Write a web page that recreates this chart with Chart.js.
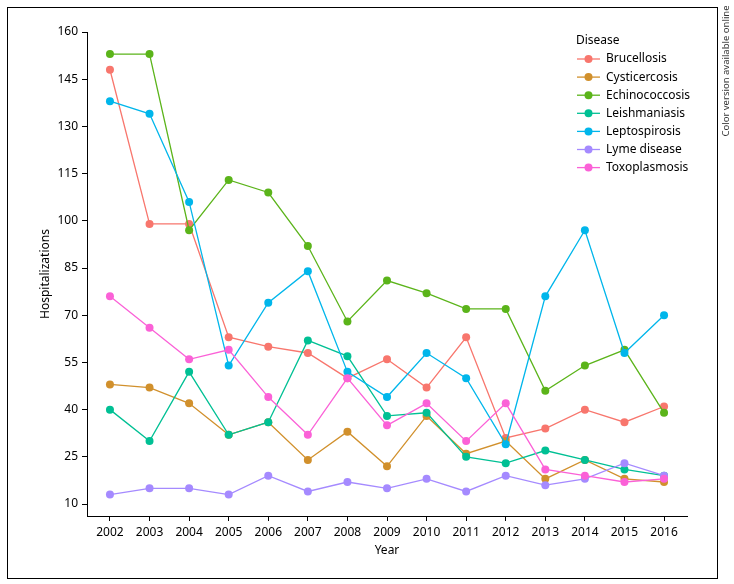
<!DOCTYPE html>
<html>
<head>
<meta charset="utf-8">
<script src="https://cdn.jsdelivr.net/npm/chart.js@4.4.0/dist/chart.umd.min.js"></script>
<style>
  html,body{margin:0;padding:0;background:#fff;}
  #wrap{width:734px;height:584px;}
</style>
</head>
<body>
<div id="wrap"><canvas id="chart"></canvas></div>
<script>
const YEARS = [2002,2003,2004,2005,2006,2007,2008,2009,2010,2011,2012,2013,2014,2015,2016];
const Y_TICKS = [10,25,40,55,70,85,100,115,130,145,160];
const DISEASES = ['Brucellosis','Cysticercosis','Echinococcosis','Leishmaniasis','Leptospirosis','Lyme disease','Toxoplasmosis'];
const COLORS = ['#F8766D','#D1902C','#5BB41A','#00C094','#00B6EB','#A58AFF','#FB61D7'];

const brucellosis    = [148,99,99,63,60,58,50,56,47,63,31,34,40,36,41];
const cysticercosis  = [48,47,42,32,36,24,33,22,38,26,30,18,24,18,17];
const echinococcosis = [153,153,97,113,109,92,68,81,77,72,72,46,54,59,39];
const leishmaniasis  = [40,30,52,32,36,62,57,38,39,25,23,27,24,21,19];
const leptospirosis  = [138,134,106,54,74,84,52,44,58,50,29,76,97,58,70];
const lyme           = [13,15,15,13,19,14,17,15,18,14,19,16,18,23,19];
const toxoplasmosis  = [76,66,56,59,44,32,50,35,42,30,42,21,19,17,18];

const SERIES = [brucellosis,cysticercosis,echinococcosis,leishmaniasis,leptospirosis,lyme,toxoplasmosis];
const FONT = '"Noto Sans", "Open Sans", sans-serif';

const datasets = SERIES.map((vals,i)=>({
  label: DISEASES[i],
  data: vals.map((v,j)=>({x:YEARS[j], y:v})),
  borderColor: COLORS[i], backgroundColor: COLORS[i],
  pointBackgroundColor: COLORS[i], pointBorderColor: COLORS[i],
  borderWidth: 1.3, pointRadius: 4, pointBorderWidth: 0,
  tension: 0, order: SERIES.length - i
}));

// legend drawn like ggplot (line + dot), frame and side note
const decor = {
  id:'decor',
  afterDraw(chart){
    const ctx = chart.ctx;
    ctx.save();
    ctx.strokeStyle = '#000'; ctx.lineWidth = 1;
    ctx.strokeRect(7.5, 7.5, 710, 571);
    // legend
    ctx.font = '12px ' + FONT;
    ctx.fillStyle = '#000'; ctx.textBaseline = 'middle'; ctx.textAlign = 'left';
    ctx.fillText('Disease', 576, 41);
    DISEASES.forEach((d,i)=>{
      const y = 59 + i*18.1;
      ctx.strokeStyle = COLORS[i]; ctx.lineWidth = 1.3;
      ctx.beginPath(); ctx.moveTo(577,y); ctx.lineTo(600,y); ctx.stroke();
      ctx.fillStyle = COLORS[i];
      ctx.beginPath(); ctx.arc(588.5,y,4,0,Math.PI*2); ctx.fill();
      ctx.fillStyle = '#000';
      ctx.fillText(d, 606, y);
    });
    // side note
    ctx.translate(726, 71);
    ctx.rotate(-Math.PI/2);
    ctx.font = '9.5px ' + FONT;
    ctx.fillStyle = '#333'; ctx.textAlign = 'center';
    ctx.fillText('Color version available online', 0, 0);
    ctx.restore();
  }
};

new Chart(document.getElementById('chart'), {
  type:'line',
  data:{datasets},
  options:{
    responsive:true, maintainAspectRatio:false, animation:false,
    layout:{padding:{left:34, right:47, top:32, bottom:22}},
    plugins:{legend:{display:false}, tooltip:{enabled:false}},
    scales:{
      x:{
        type:'linear', min:2001.42, max:2016.58,
        afterBuildTicks(s){ s.ticks = YEARS.map(v=>({value:v})); },
        afterFit(s){ s.height = 46; },
        grid:{drawOnChartArea:false, drawTicks:true, tickLength:5, color:'#000'},
        border:{display:true, color:'#000', width:1},
        ticks:{color:'#000', font:{family:FONT, size:12}, padding:4, maxRotation:0, autoSkip:false, callback:v=>String(v)},
        title:{display:true, text:'Year', color:'#000', font:{family:FONT, size:12}, padding:{top:0,bottom:4}}
      },
      y:{
        type:'linear', min:6.2, max:160,
        afterBuildTicks(s){ s.ticks = Y_TICKS.map(v=>({value:v})); },
        afterFit(s){ s.width = 53; },
        grid:{drawOnChartArea:false, drawTicks:true, tickLength:5, color:'#000'},
        border:{display:true, color:'#000', width:1},
        ticks:{color:'#000', font:{family:FONT, size:12}, padding:4, autoSkip:false},
        title:{display:true, text:'Hospitalizations', color:'#000', font:{family:FONT, size:12}, padding:{top:4,bottom:4}}
      }
    }
  },
  plugins:[decor]
});
</script>
</body>
</html>
